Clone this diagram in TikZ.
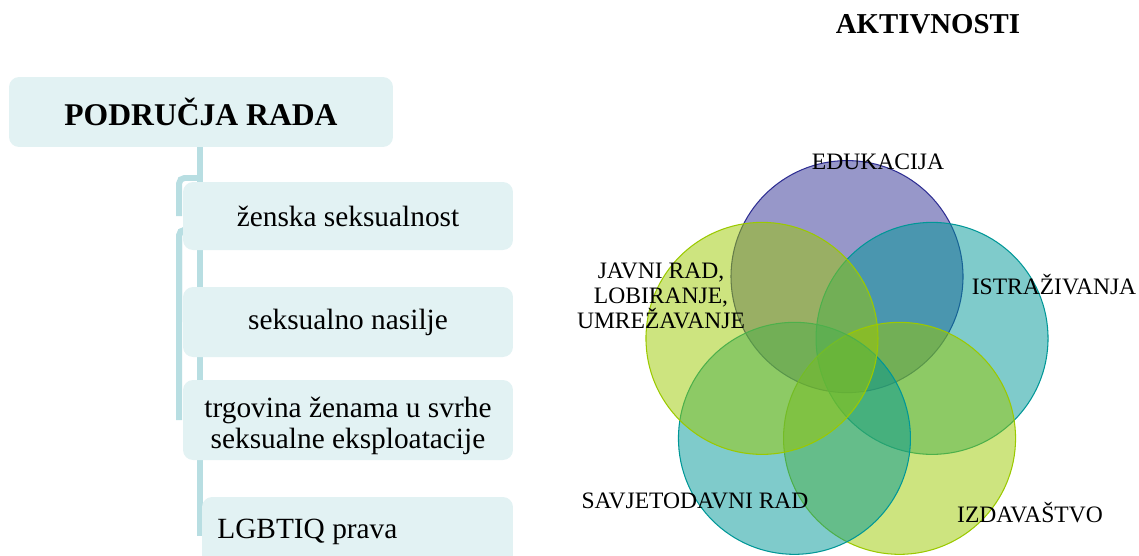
\documentclass[tikz,border=0pt]{standalone}
\usepackage{fontspec}
\setmainfont{Liberation Serif}
\usetikzlibrary{calc,backgrounds}
\definecolor{boxfill}{RGB}{226,242,243}
\definecolor{connline}{RGB}{184,222,226}
\definecolor{vennpurple}{RGB}{47,47,147}
\definecolor{vennteal}{RGB}{0,151,151}
\definecolor{vennlime}{RGB}{155,201,0}

\begin{document}
\begin{tikzpicture}[x=0.02cm,y=-0.02cm,
    areabox/.style={fill=boxfill, rounded corners=5.7pt, inner sep=0pt,
      font=\fontsize{16.7}{18.1}\selectfont},
    conn/.style={draw=connline, line width=3.4pt, rounded corners=3pt},
    venn/.style={draw=#1, fill=#1, fill opacity=0.5, line width=0.6pt},
    vennlabel/.style={font=\fontsize{13.4}{14.2}\selectfont, align=center}]
  \useasboundingbox (0,0) rectangle (1139,555);
  \clip (0,0) rectangle (1139,555);

  % podrucja rada
  \node[areabox, minimum width=7.68cm, minimum height=1.4cm,
    font=\fontsize{18}{21}\selectfont\bfseries] (title) at (201,112) {PODRUČJA RADA};
  \node[areabox, minimum width=6.6cm, minimum height=1.36cm] (zen) at (348,216) {ženska seksualnost};
  \node[areabox, minimum width=6.6cm, minimum height=1.4cm] (nas) at (348,322) {seksualno nasilje};
  \node[areabox, minimum width=6.6cm, minimum height=1.6cm] (trg) at (348,420) {};
  \node[font=\fontsize{16.7}{18.1}\selectfont, align=center] (trgtext) at (348,426)
    {trgovina ženama u svrhe\\seksualne eksploatacije};
  \node[areabox, minimum width=6.22cm, minimum height=1.56cm] (lgbt) at (357.5,536) {};
  \node[font=\fontsize{16.7}{18.1}\selectfont, anchor=base west, inner sep=0pt] (lgbttext) at (217,538) {LGBTIQ prava};

  \coordinate (k1) at (200,178);
  \coordinate (k2) at (200,230);
  \begin{scope}[on background layer]
    \draw[conn] (title.south -| k1) -- (k1 |- lgbt.west);
    \draw[conn] (k1) -| ($(zen.west)+(-3.5,0)$);
    \foreach \area in {nas,trg}
      \draw[conn] (k2) -| ($(\area.west)+(-3.5,0)$);
  \end{scope}

  % aktivnosti
  \node[font=\fontsize{16.4}{19}\selectfont\bfseries, anchor=base] (akt) at (928,33) {AKTIVNOSTI};
  \coordinate (vc) at (847,366);
  \foreach \ang/\col in {-90/vennpurple,-18/vennteal,54/vennlime,126/vennteal,198/vennlime}
    \draw[venn=\col] ($(vc)+(\ang:89.4)$) circle[radius=116];

  \node[vennlabel, anchor=base] (edu) at (878,169) {EDUKACIJA};
  \node[vennlabel, anchor=base] (istr) at (1054,294) {ISTRAŽIVANJA};
  \node[vennlabel] (javni) at (661,296) {JAVNI RAD,\\LOBIRANJE,\\UMREŽAVANJE};
  \node[vennlabel, anchor=base] (savj) at (695,508) {SAVJETODAVNI RAD};
  \node[vennlabel, anchor=base] (izd) at (1030,522) {IZDAVAŠTVO};
\end{tikzpicture}
\end{document}
